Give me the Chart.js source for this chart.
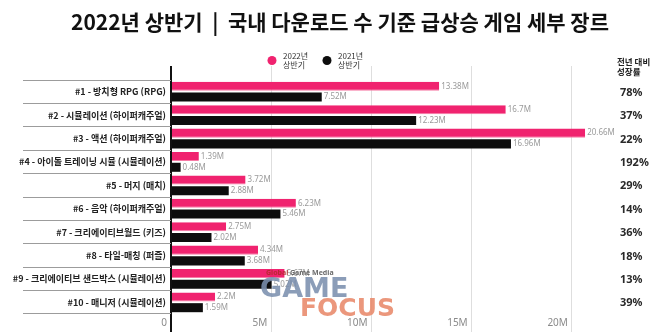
<!DOCTYPE html>
<html lang="ko">
<head>
<meta charset="utf-8">
<script src="https://cdn.jsdelivr.net/npm/chart.js@4/dist/chart.umd.min.js"></script>
<style>
  html, body { margin: 0; padding: 0; background: #ffffff; }
  #wrap { width: 660px; height: 332px; }
</style>
</head>
<body>
<div id="wrap"><canvas id="chart" width="660" height="332"></canvas></div>
<script>
// Genre ranking, first half 2022 vs first half 2021 (downloads, millions)
const categories = [
  '#1 - 방치형 RPG (RPG)',
  '#2 - 시뮬레이션 (하이퍼캐주얼)',
  '#3 - 액션 (하이퍼캐주얼)',
  '#4 - 아이돌 트레이닝 시뮬 (시뮬레이션)',
  '#5 - 머지 (매치)',
  '#6 - 음악 (하이퍼캐주얼)',
  '#7 - 크리에이티브월드 (키즈)',
  '#8 - 타일-매칭 (퍼즐)',
  '#9 - 크리에이티브 샌드박스 (시뮬레이션)',
  '#10 - 매니저 (시뮬레이션)'
];
const downloads2022 = [13.38, 16.7, 20.66, 1.39, 3.72, 6.23, 2.75, 4.34, 5.67, 2.2];
const downloads2021 = [7.52, 12.23, 16.96, 0.48, 2.88, 5.46, 2.02, 3.68, 5.02, 1.59];
const growthLabels = ['78%', '37%', '22%', '192%', '29%', '14%', '36%', '18%', '13%', '39%'];
const xTickValues = [0, 5, 10, 15, 20];
const seriesNames = [['2022년', '상반기'], ['2021년', '상반기']];
const titleText = '2022년 상반기  |  국내 다운로드 수 기준 급상승 게임 세부 장르';
const growthHeader = ['전년 대비', '성장률'];

const PINK = '#f0236f';
const BLACK = '#0d0d0d';
const KR = '"Noto Sans CJK KR", "Noto Sans", sans-serif';

const gridColor = (ctx) => (ctx.tick && ctx.tick.value === 0) ? '#111111' : '#dedede';
const gridWidth = (ctx) => (ctx.tick && ctx.tick.value === 0) ? 2 : 1;
const fixedTicks = (scale) => { scale.ticks = xTickValues.map(v => ({ value: v })); };

// Title, legend, growth column, value labels and site mark
const decorations = {
  id: 'decorations',
  afterDatasetsDraw(chart) {
    const ctx = chart.ctx;
    ctx.save();
    ctx.font = '8px "Noto Sans", sans-serif';
    ctx.fillStyle = '#9a9a9a';
    ctx.textAlign = 'left';
    ctx.textBaseline = 'middle';
    chart.data.datasets.forEach((ds, di) => {
      chart.getDatasetMeta(di).data.forEach((bar, i) => {
        ctx.fillText(ds.data[i] + 'M', bar.x + 2, bar.y);
      });
    });
    ctx.restore();
  },
  afterDraw(chart) {
    const ctx = chart.ctx;
    const yScale = chart.scales.y;
    ctx.save();

    // title
    ctx.fillStyle = '#111111';
    ctx.font = 'bold 21px ' + KR;
    ctx.textAlign = 'center';
    ctx.textBaseline = 'middle';
    ctx.fillText(titleText, 340, 22);

    // legend
    const legendX = [272, 327];
    const colors = [PINK, BLACK];
    ctx.textAlign = 'left';
    ctx.font = '8px ' + KR;
    legendX.forEach((lx, i) => {
      ctx.beginPath();
      ctx.fillStyle = colors[i];
      ctx.arc(lx, 60.5, 4.5, 0, Math.PI * 2);
      ctx.fill();
      ctx.fillStyle = '#333333';
      ctx.fillText(seriesNames[i][0], lx + 11, 56);
      ctx.fillText(seriesNames[i][1], lx + 11, 64.5);
    });

    // growth column
    ctx.font = 'bold 8.5px ' + KR;
    ctx.fillStyle = '#222222';
    ctx.fillText(growthHeader[0], 617, 62);
    ctx.fillText(growthHeader[1], 617, 71.5);
    ctx.font = 'bold 11px "Noto Sans", sans-serif';
    ctx.fillStyle = '#2a2a2a';
    growthLabels.forEach((g, i) => {
      ctx.fillText(g, 620, yScale.getPixelForValue(i) + 1);
    });

    // site mark
    ctx.globalAlpha = 0.88;
    ctx.font = 'bold 7px "Noto Sans", sans-serif';
    ctx.fillStyle = '#b02a2a';
    ctx.fillText('Global', 266, 273);
    ctx.fillStyle = '#555555';
    ctx.fillText('Game Media', 290, 273);
    ctx.textBaseline = 'alphabetic';
    ctx.font = 'bold 27px "DejaVu Sans", sans-serif';
    ctx.fillStyle = '#7b8fae';
    ctx.fillText('GAME', 260, 297);
    ctx.font = 'bold 25px "DejaVu Sans", sans-serif';
    ctx.fillStyle = '#e8896a';
    ctx.fillText('FOCUS', 300, 316);
    ctx.restore();
  }
};

new Chart(document.getElementById('chart'), {
  type: 'bar',
  data: {
    labels: categories,
    datasets: [
      { label: '2022년 상반기', data: downloads2022, backgroundColor: PINK,
        borderColor: '#f77aa5', borderWidth: { bottom: 1 }, borderSkipped: false },
      { label: '2021년 상반기', data: downloads2021, backgroundColor: BLACK, borderWidth: 0 }
    ]
  },
  options: {
    indexAxis: 'y',
    responsive: false,
    animation: false,
    devicePixelRatio: 1,
    categoryPercentage: 0.92,
    barPercentage: 0.84,
    layout: { padding: { top: 66, right: 48, bottom: 0, left: 0 } },
    plugins: {
      legend: { display: false },
      title: { display: false },
      tooltip: { enabled: false }
    },
    scales: {
      x: {
        position: 'bottom',
        min: 0, max: 22,
        afterBuildTicks: fixedTicks,
        afterFit: (s) => { s.height = 18; },
        border: { display: false },
        grid: { color: gridColor, lineWidth: gridWidth, tickLength: 18 },
        ticks: {
          autoSkip: false, maxRotation: 0, align: 'end', labelOffset: -4, padding: -15,
          color: '#8a8a8a', font: { family: '"Noto Sans", sans-serif', size: 10 },
          callback: (v) => v === 0 ? '0' : v + 'M'
        }
      },
      x2: {
        position: 'top',
        min: 0, max: 22,
        afterBuildTicks: fixedTicks,
        afterFit: (s) => { s.height = 14; },
        border: { display: false },
        grid: { color: gridColor, lineWidth: gridWidth, tickLength: 14, drawOnChartArea: false },
        ticks: { display: false }
      },
      y: {
        afterFit: (s) => { s.width = 171; },
        border: { display: false },
        grid: { offset: true, drawOnChartArea: false, tickLength: 148, color: '#9c9c9c', lineWidth: 1 },
        ticks: {
          padding: -143, color: '#222222',
          font: { family: KR, size: 9, weight: 'bold' }
        }
      }
    }
  },
  plugins: [decorations]
});
</script>
</body>
</html>
